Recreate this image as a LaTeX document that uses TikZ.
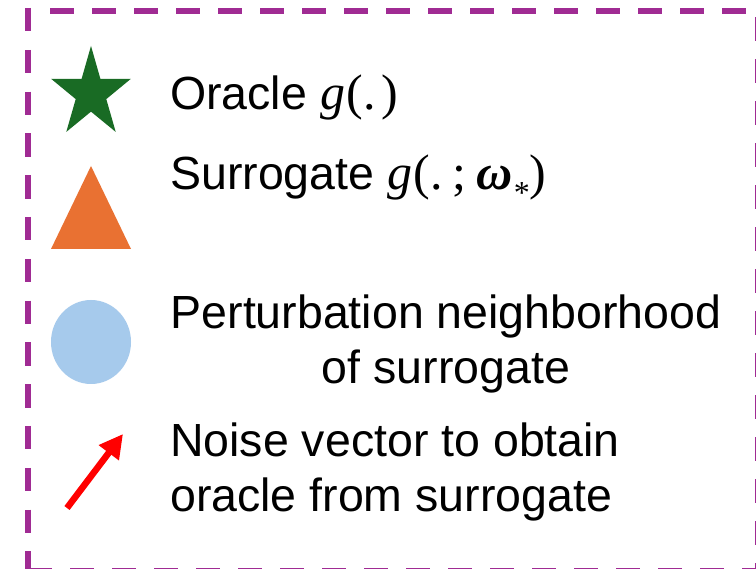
\documentclass[tikz,border=0pt]{standalone}
\usepackage{fontspec}
\setsansfont{Liberation Sans}
\newfontfamily\mathlike{Liberation Serif}
\usetikzlibrary{arrows.meta}
\definecolor{frame}{RGB}{160,43,147}
\definecolor{stargreen}{RGB}{25,107,36}
\definecolor{triorange}{RGB}{233,113,50}
\definecolor{nbblue}{RGB}{166,202,236}
\newcommand{\mfont}{\mathlike\fontsize{50}{55}\selectfont}
\newcommand{\gfun}{{\mfont\itshape g}\kern0.03em{\mfont(}}
\tikzset{
  lbl/.style={inner sep=0pt, font=\sffamily\fontsize{46.5}{55}\selectfont},
  framedash/.style={draw=frame, line width=6pt, line cap=butt, dash pattern=on 23.5pt off 18.3pt},
}
\begin{document}
\begin{tikzpicture}[x=1pt,y=-1pt]
\useasboundingbox (0,0) rectangle (756,569);
\begin{scope}
\clip (0,0) rectangle (756,569);
\fill[white] (0,0) rectangle (756,569);
% dashed frame
\draw[framedash] (28,8) -- (28,575);
\draw[framedash, dash pattern=on 24pt off 18pt] (50,11) -- (770,11);
\draw[framedash, dash pattern=on 24pt off 18pt] (28,571) -- (770,571);
\draw[framedash, dash pattern=on 24pt off 18pt] (758,17) -- (758,600);
\end{scope}
% star
\fill[stargreen] (91,46) -- (100.4,78.8) -- (130.9,78.8) -- (106.3,99.1) -- (115.7,131.9)
  -- (91,111.65) -- (66.3,131.9) -- (75.7,99.1) -- (51.1,78.8) -- (81.6,78.8) -- cycle;
% triangle
\fill[triorange] (51,249) -- (131,249) -- (91,166) -- cycle;
% neighborhood
\fill[nbblue] (91,342) ellipse [x radius=40, y radius=42];
% noise arrow
\coordinate (ntail) at (67,508);
\coordinate (nhead) at (123,434);
\draw[red, line width=6.5pt, -{Triangle[length=23.6pt,width=23.8pt]}] (ntail) -- (nhead);
% labels
\node[lbl, anchor=base west] (oracle) at (170,110) {Oracle \gfun{\mfont.\kern0.12em)}};
\node[lbl, anchor=base west] (surr) at (170,190) {Surrogate \gfun{\mfont.\kern0.2em;\kern0.2em{\bfseries\itshape ω}\kern0.02em\raisebox{-0.28em}{\fontsize{32}{32}\selectfont *})}};
\node[lbl, align=center, anchor=base] (pert) at (446,384) {Perturbation neighborhood\\of surrogate};
\node[lbl, align=left, anchor=base west] (noise) at (170,512) {Noise vector to obtain\\oracle from surrogate};
\end{tikzpicture}
\end{document}
